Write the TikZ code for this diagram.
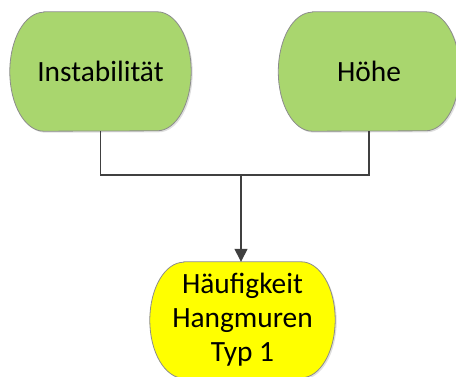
\documentclass[tikz,border=0pt]{standalone}
\usepackage{fontspec}
\setmainfont{Carlito}
\usepackage{tikz}
\usetikzlibrary{shadows}
\usetikzlibrary{positioning}
\usetikzlibrary{arrows.meta,backgrounds}
\usetikzlibrary{calc}

\definecolor{factgreen}{RGB}{169,214,110}
\definecolor{factyellow}{RGB}{255,255,0}
\definecolor{linegray}{RGB}{64,64,64}

\begin{document}
\begin{tikzpicture}[x=1bp, y=1bp,
    factor/.style={rectangle, inner sep=0pt, align=center,
      font=\fontsize{29.5}{34}\selectfont},
    outline/.style={draw=black!45, line width=0.8bp,
      drop shadow={shadow xshift=1.5bp, shadow yshift=-1.5bp, opacity=0.25}},
    link/.style={draw=linegray, line width=1.4bp}]

	\useasboundingbox (0,0) rectangle (456,376);

	\def\rx{34};

	% input factors
	\node[factor, minimum width=181bp, minimum height=119bp] (inst) at (100.5,304.5) {Instabilität};
	\node[factor, minimum width=181bp, minimum height=119bp] (hoehe) at (369,304.5) {Höhe};

	% result
	\node[factor, minimum width=185bp, minimum height=116bp] (freq) at (242.5,56) {Häufigkeit\\Hangmuren\\Typ 1};

	% outlines with flattened round ends
	\begin{pgfonlayer}{background}
	\foreach \n/\col/\ry in {inst/factgreen/59.5, hoehe/factgreen/59.5, freq/factyellow/58} {
		\draw[outline, fill=\col] ($(\n.north west)+(\rx,0)$) -- ($(\n.north east)-(\rx,0)$)
			arc[start angle=90, end angle=-90, x radius=\rx, y radius=\ry]
			-- ($(\n.south west)+(\rx,0)$)
			arc[start angle=270, end angle=90, x radius=\rx, y radius=\ry] -- cycle;
	}
	\end{pgfonlayer}

	\coordinate (join) at (241,201);
	\draw[link] (inst.south) |- (join) -| (hoehe.south);
	\draw[link, -{Triangle[length=13bp, width=13bp]}] (join) -- (join |- freq.north);

\end{tikzpicture}
\end{document}
